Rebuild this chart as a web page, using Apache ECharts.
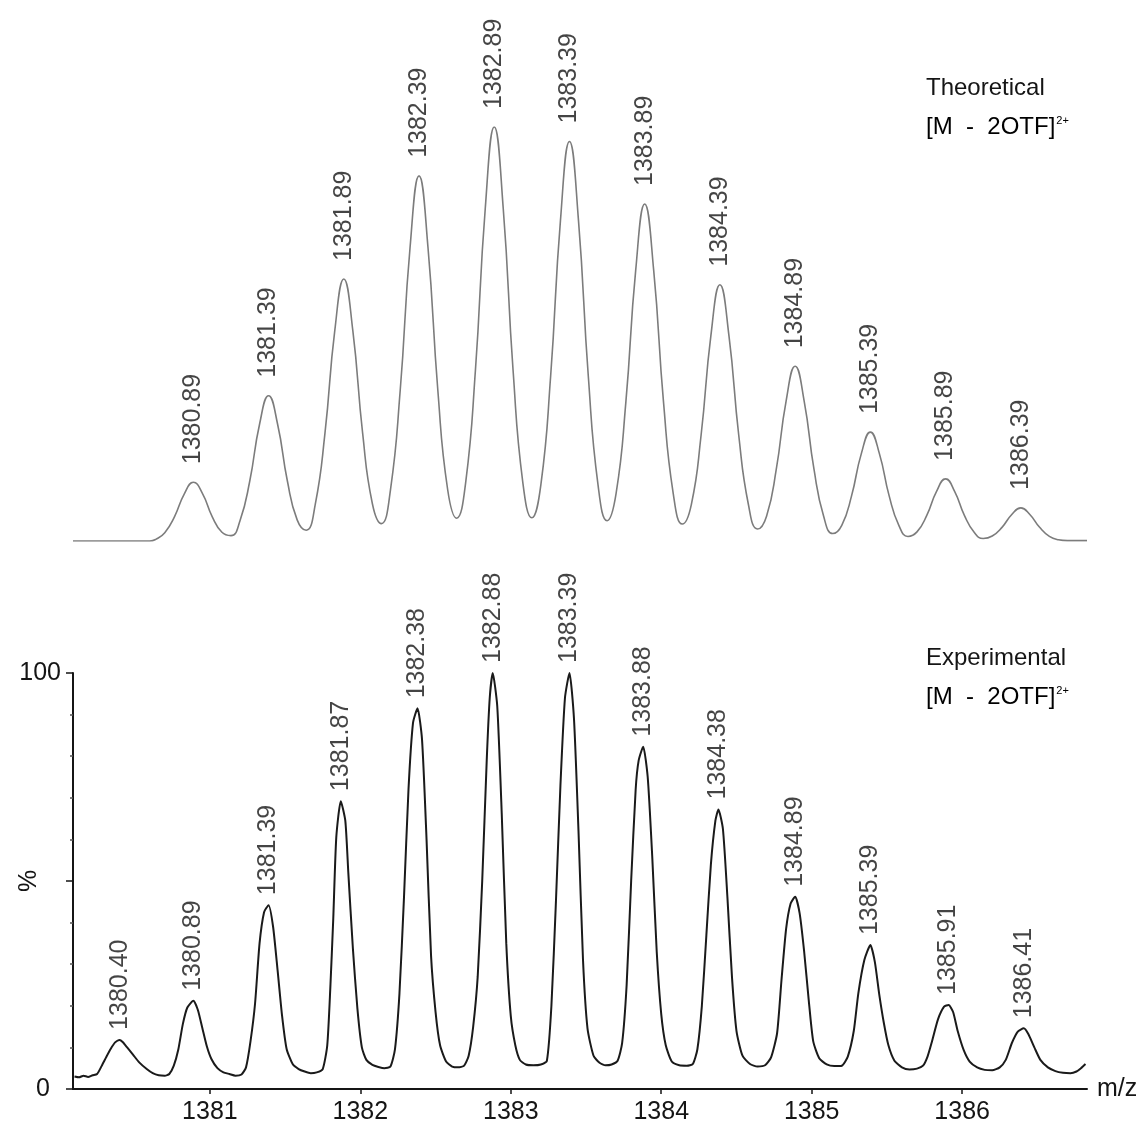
<!DOCTYPE html>
<html>
<head>
<meta charset="utf-8">
<title>[M - 2OTF]2+ isotope pattern</title>
<script src="https://cdn.jsdelivr.net/npm/echarts@6/dist/echarts.min.js"></script>
<style>
  html, body { margin: 0; padding: 0; background: #ffffff; }
  #chart { width: 1145px; height: 1129px; }
</style>
</head>
<body>
<div id="chart"></div>
<script>
// m/z range shared by both panels
const mzRange = [1380.09, 1386.83];
const mzTicks = [1381, 1382, 1383, 1384, 1385, 1386];
const pctTickLabels = { 0: '0', 100: '100' };

// Theoretical isotope envelope: labelled peak centres and relative heights (%)
const theoPeakMz = [1380.89, 1381.39, 1381.89, 1382.39, 1382.89, 1383.39,
                    1383.89, 1384.39, 1384.89, 1385.39, 1385.89, 1386.39];
const theoPeakPct = [14.2, 35.1, 63.3, 88.2, 100, 96.5, 81.4, 61.9, 42.2, 26.3, 15.0, 8.0];

// Theoretical profile [m/z, %]
const theoProfile = [
  [1380.09, 0], [1380.60, 0], [1380.64, 0.4],
  [1380.70, 2.0], [1380.765, 5.9], [1380.83, 11.4], [1380.89, 14.2], [1380.95, 11.5], [1381.015, 5.9], [1381.08, 2.1], [1381.14, 1.3],
  [1381.20, 4.9], [1381.265, 14.5], [1381.33, 28.2], [1381.39, 35.1], [1381.45, 28.2], [1381.515, 14.5], [1381.58, 5.1], [1381.64, 2.6],
  [1381.70, 8.8], [1381.765, 26.1], [1381.83, 50.8], [1381.89, 63.3], [1381.95, 50.8], [1382.015, 26.1], [1382.08, 9.0], [1382.14, 4.2],
  [1382.20, 12.3], [1382.265, 36.4], [1382.33, 70.7], [1382.39, 88.2], [1382.45, 70.7], [1382.515, 36.4], [1382.58, 12.5], [1382.64, 5.5],
  [1382.70, 14.1], [1382.765, 41.3], [1382.83, 80.2], [1382.89, 100], [1382.95, 80.2], [1383.015, 41.3], [1383.08, 14.1], [1383.14, 5.6],
  [1383.20, 13.6], [1383.265, 39.9], [1383.33, 77.4], [1383.39, 96.5], [1383.45, 77.4], [1383.515, 39.9], [1383.58, 13.5], [1383.64, 4.9],
  [1383.70, 11.5], [1383.765, 33.6], [1383.83, 65.3], [1383.89, 81.4], [1383.95, 65.3], [1384.015, 33.6], [1384.08, 11.4], [1384.14, 4.1],
  [1384.20, 8.8], [1384.265, 25.6], [1384.33, 49.6], [1384.39, 61.9], [1384.45, 49.6], [1384.515, 25.6], [1384.58, 8.7], [1384.64, 2.9],
  [1384.70, 6.0], [1384.765, 17.4], [1384.83, 33.8], [1384.89, 42.2], [1384.95, 33.8], [1385.015, 17.4], [1385.08, 5.9], [1385.14, 1.8],
  [1385.20, 3.8], [1385.265, 10.9], [1385.33, 21.1], [1385.39, 26.3], [1385.45, 21.1], [1385.515, 10.9], [1385.58, 3.7], [1385.64, 1.1],
  [1385.70, 2.2], [1385.765, 6.2], [1385.83, 12.0], [1385.89, 15.0], [1385.95, 12.0], [1386.015, 6.2], [1386.08, 2.1], [1386.14, 0.6],
  [1386.20, 1.2], [1386.265, 3.3], [1386.33, 6.4], [1386.39, 8.0], [1386.45, 6.4], [1386.515, 3.3], [1386.58, 1.1], [1386.64, 0.3],
  [1386.70, 0.1], [1386.83, 0.1]
];

// Experimental spectrum: labelled peak centres and relative heights (%)
const expPeakMz = [1380.40, 1380.89, 1381.39, 1381.87, 1382.38, 1382.88, 1383.39,
                   1383.88, 1384.38, 1384.89, 1385.39, 1385.91, 1386.41];
const expPeakPct = [11.8, 21.2, 44.2, 69.2, 91.5, 100, 100, 82.3, 67.2, 46.2, 34.6, 20.2, 14.6];

// Experimental profile [m/z, %]
const expProfile = [
  [1380.10, 3.0], [1380.13, 2.8], [1380.16, 3.2], [1380.19, 2.9], [1380.22, 3.3], [1380.25, 3.6],
  [1380.28, 5.5], [1380.31, 7.6], [1380.34, 9.6], [1380.37, 11.2], [1380.40, 11.8], [1380.42, 11.3],
  [1380.45, 10.0], [1380.49, 8.2], [1380.53, 6.4], [1380.58, 4.8], [1380.62, 3.8], [1380.66, 3.3],
  [1380.70, 3.2], [1380.73, 3.6], [1380.76, 5.6], [1380.79, 9.5], [1380.82, 15.6], [1380.85, 19.6],
  [1380.89, 21.2], [1380.92, 19.0], [1380.95, 14.6], [1380.98, 10.2], [1381.01, 7.2], [1381.05, 5.0],
  [1381.09, 4.0], [1381.13, 3.6], [1381.17, 3.2], [1381.21, 3.5], [1381.24, 5.2], [1381.27, 11.5],
  [1381.30, 20.5], [1381.33, 35.0], [1381.36, 42.5], [1381.39, 44.2], [1381.42, 39.0], [1381.45, 28.5],
  [1381.48, 17.5], [1381.51, 9.6], [1381.55, 6.0], [1381.59, 4.8], [1381.63, 4.2], [1381.67, 3.8],
  [1381.71, 4.0], [1381.75, 4.8], [1381.78, 10.5], [1381.80, 24.0], [1381.82, 41.0], [1381.84, 60.5],
  [1381.87, 69.2], [1381.90, 64.5], [1381.92, 52.0], [1381.95, 34.0], [1381.98, 19.5], [1382.01, 10.0],
  [1382.04, 7.0], [1382.08, 5.8], [1382.12, 5.3], [1382.16, 5.0], [1382.20, 5.4], [1382.23, 9.5],
  [1382.26, 23.0], [1382.29, 46.0], [1382.32, 72.0], [1382.35, 88.0], [1382.38, 91.5], [1382.41, 84.0],
  [1382.44, 60.0], [1382.47, 32.0], [1382.50, 18.5], [1382.53, 10.5], [1382.57, 6.6], [1382.61, 5.4],
  [1382.65, 5.2], [1382.69, 5.6], [1382.72, 8.0], [1382.75, 15.0], [1382.78, 27.0], [1382.81, 50.0],
  [1382.84, 79.0], [1382.86, 94.0], [1382.88, 100], [1382.91, 92.0], [1382.94, 66.0], [1382.97, 35.0],
  [1383.00, 17.5], [1383.03, 10.5], [1383.06, 7.0], [1383.10, 5.9], [1383.15, 5.7], [1383.20, 5.9],
  [1383.24, 6.8], [1383.27, 20.0], [1383.30, 45.0], [1383.33, 73.0], [1383.36, 94.0], [1383.39, 100],
  [1383.42, 89.0], [1383.45, 62.0], [1383.48, 31.0], [1383.51, 14.5], [1383.55, 8.0], [1383.59, 6.3],
  [1383.63, 5.7], [1383.67, 5.9], [1383.71, 6.8], [1383.74, 11.0], [1383.77, 25.0], [1383.80, 50.0],
  [1383.83, 72.0], [1383.85, 79.0], [1383.88, 82.3], [1383.91, 75.0], [1383.94, 56.0], [1383.97, 33.0],
  [1384.00, 18.0], [1384.03, 10.5], [1384.07, 6.6], [1384.12, 5.7], [1384.17, 5.6], [1384.21, 6.0],
  [1384.24, 9.5], [1384.27, 20.0], [1384.30, 37.0], [1384.33, 54.0], [1384.36, 64.5], [1384.38, 67.2],
  [1384.41, 62.5], [1384.44, 46.0], [1384.47, 27.0], [1384.50, 14.0], [1384.54, 8.0], [1384.59, 6.0],
  [1384.64, 5.4], [1384.69, 5.7], [1384.73, 7.6], [1384.77, 13.4], [1384.80, 26.5], [1384.83, 38.5],
  [1384.86, 44.6], [1384.89, 46.2], [1384.92, 42.2], [1384.95, 33.0], [1384.98, 21.5], [1385.01, 11.5],
  [1385.05, 7.4], [1385.10, 5.9], [1385.15, 5.5], [1385.20, 5.6], [1385.24, 7.8], [1385.28, 14.0],
  [1385.31, 23.0], [1385.35, 31.0], [1385.39, 34.6], [1385.42, 30.5], [1385.45, 22.5], [1385.48, 15.8],
  [1385.51, 10.5], [1385.55, 6.8], [1385.60, 5.2], [1385.65, 4.7], [1385.70, 4.9], [1385.74, 5.6],
  [1385.77, 7.8], [1385.80, 11.5], [1385.84, 16.8], [1385.88, 19.8], [1385.91, 20.2], [1385.94, 18.5],
  [1385.97, 14.0], [1386.01, 9.4], [1386.05, 6.6], [1386.10, 5.2], [1386.15, 4.6], [1386.20, 4.5],
  [1386.25, 5.2], [1386.29, 7.0], [1386.33, 11.0], [1386.37, 13.8], [1386.41, 14.6], [1386.44, 13.2],
  [1386.48, 10.0], [1386.52, 7.0], [1386.57, 5.2], [1386.62, 4.3], [1386.67, 3.9], [1386.72, 3.8],
  [1386.76, 4.2], [1386.79, 5.0], [1386.82, 6.0]
];

const FONT = '"Liberation Sans", Arial, Helvetica, sans-serif';
const INK = '#151515';

function zip(xs, ys) { return xs.map((x, i) => [x, ys[i]]); }

// rotated m/z labels sitting above each peak
function peakLabels(points, gap, xIdx, yIdx) {
  return {
    type: 'scatter',
    xAxisIndex: xIdx, yAxisIndex: yIdx,
    data: points,
    symbolSize: 0,
    silent: true,
    z: 5,
    label: {
      show: true,
      position: 'top',
      distance: gap,
      rotate: 90,
      align: 'left',
      verticalAlign: 'middle',
      fontFamily: FONT,
      fontSize: 25,
      color: INK,
      formatter: p => p.value[0].toFixed(2)
    }
  };
}

const chart = echarts.init(document.getElementById('chart'), null, { renderer: 'canvas' });

const rich = {
  b: { fontFamily: FONT, fontSize: 24, color: INK },
  s: { fontFamily: FONT, fontSize: 11, color: INK, verticalAlign: 'top', padding: [0, 0, 10, 1] }
};

chart.setOption({
  animation: false,
  backgroundColor: '#ffffff',
  grid: [
    { left: 73, right: 58, top: 127, bottom: 588, outerBoundsMode: 'none' },
    { left: 73, right: 58, top: 673, bottom: 40, outerBoundsMode: 'none' }
  ],
  xAxis: [
    {
      gridIndex: 0, type: 'value', min: mzRange[0], max: mzRange[1],
      show: false
    },
    {
      gridIndex: 1, type: 'value', min: mzRange[0], max: mzRange[1],
      name: 'm/z', nameLocation: 'end', nameGap: 10, nameMoveOverlap: false,
      nameTextStyle: { fontFamily: FONT, fontSize: 25, color: INK, verticalAlign: 'middle', align: 'left' },
      axisLine: { show: true, onZero: false, lineStyle: { color: INK, width: 2 } },
      axisTick: { show: true, customValues: mzTicks, length: 5, lineStyle: { color: INK, width: 1.5 } },
      axisLabel: {
        show: true, customValues: mzTicks, margin: 11, fontFamily: FONT, fontSize: 25, color: INK,
        formatter: v => String(v)
      },
      splitLine: { show: false }
    }
  ],
  yAxis: [
    {
      gridIndex: 0, type: 'value', min: 0, max: 100, show: false
    },
    {
      gridIndex: 1, type: 'value', min: 0, max: 100, interval: 50,
      name: '%', nameLocation: 'middle', nameGap: 31, nameRotate: 90, nameMoveOverlap: false,
      nameTextStyle: { fontFamily: FONT, fontSize: 25, color: INK },
      axisLine: { show: true, lineStyle: { color: INK, width: 2 } },
      axisTick: { show: true, length: 7, lineStyle: { color: INK, width: 1.5 } },
      minorTick: { show: true, splitNumber: 5, length: 3, lineStyle: { color: '#555', width: 1.5 } },
      axisLabel: {
        margin: 12, fontFamily: FONT, fontSize: 25, color: INK,
        formatter: v => v === 0 ? '{z|0}' : (pctTickLabels[v] || ''),
        rich: { z: { fontFamily: FONT, fontSize: 25, color: INK, padding: [0, 11, 0, 0] } }
      },
      splitLine: { show: false },
      minorSplitLine: { show: false }
    }
  ],
  graphic: [
    { type: 'text', left: 926, top: 76, style: { text: 'Theoretical', font: '24px ' + FONT, fill: INK } },
    { type: 'text', left: 926, top: 115, style: { text: '{b|[M  -  2OTF]}{s|2+}', rich: rich } },
    { type: 'text', left: 926, top: 646, style: { text: 'Experimental', font: '24px ' + FONT, fill: INK } },
    { type: 'text', left: 926, top: 685, style: { text: '{b|[M  -  2OTF]}{s|2+}', rich: rich } }
  ],
  series: [
    {
      name: 'Theoretical',
      type: 'line', xAxisIndex: 0, yAxisIndex: 0,
      data: theoProfile,
      showSymbol: false, smooth: 0.5,
      lineStyle: { color: '#7c7c7c', width: 1.6 },
      silent: true
    },
    peakLabels(zip(theoPeakMz, theoPeakPct), 18, 0, 0),
    {
      name: 'Experimental',
      type: 'line', xAxisIndex: 1, yAxisIndex: 1,
      data: expProfile,
      showSymbol: false, smooth: 0.2,
      lineStyle: { color: '#1a1a1a', width: 2 },
      silent: true
    },
    peakLabels(zip(expPeakMz, expPeakPct), 10, 1, 1)
  ]
});
</script>
</body>
</html>
